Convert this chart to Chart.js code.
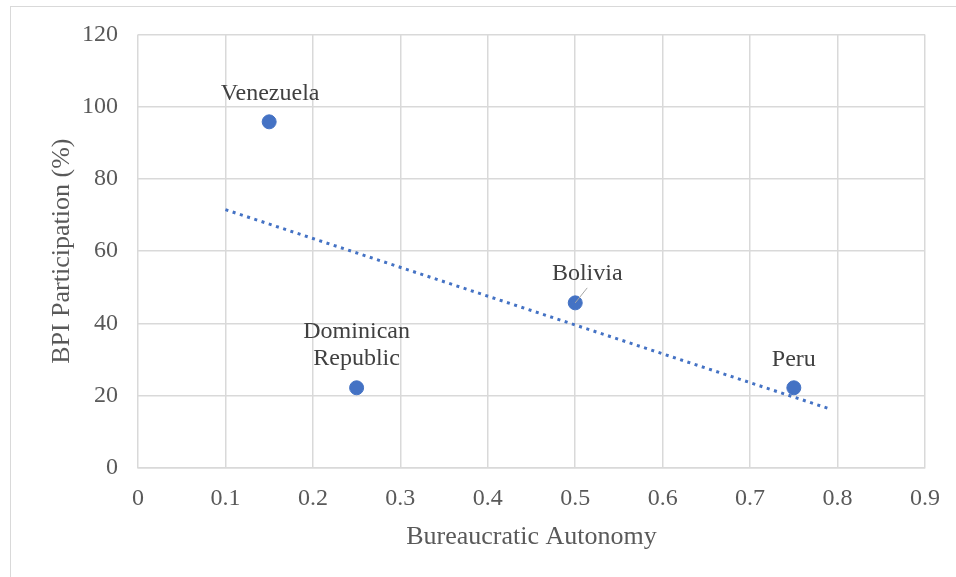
<!DOCTYPE html>
<html>
<head>
<meta charset="utf-8">
<script src="https://cdn.jsdelivr.net/npm/chart.js@4/dist/chart.umd.min.js"></script>
<style>
  html, body { margin: 0; padding: 0; background: #fff; overflow: hidden; }
  #wrap { position: relative; width: 956px; height: 577px; }
  #frame { position: absolute; left: 10px; top: 6px; width: 980px; height: 600px; border: 1.5px solid #d9d9d9; }
  canvas { position: absolute; left: 0; top: 0; }
</style>
</head>
<body>
<div id="wrap">
  <div id="frame"></div>
  <canvas id="chart" width="956" height="577"></canvas>
</div>
<script>
// country data
const countries = ["Venezuela", "Dominican\nRepublic", "Bolivia", "Peru"]
const autonomy = [0.15, 0.25, 0.5, 0.75]
const participation = [95.8, 22.2, 45.7, 22.2]

// linear trendline end points
const trendX = [0.1, 0.793]
const trendY = [71.5, 16.2]

const xTicks = [0, 0.1, 0.2, 0.3, 0.4, 0.5, 0.6, 0.7, 0.8, 0.9]
const yTicks = [0, 20, 40, 60, 80, 100, 120]

const serif = "'Liberation Serif', 'Times New Roman', serif"
const textColor = "#595959"
const gridColor = "#d9d9d9"
const blue = "#4472c4"

// label offsets relative to each point (dx, dy of the last text line)
const labelOffset = {
  "Venezuela": [1, -28],
  "Dominican\nRepublic": [0, -29],
  "Bolivia": [12, -29],
  "Peru": [0, -28]
}

const pointLabels = {
  id: "pointLabels",
  afterDatasetsDraw(chart) {
    const ctx = chart.ctx
    const xs = chart.scales.x
    const ys = chart.scales.y
    ctx.save()
    ctx.font = "24px " + serif
    ctx.fillStyle = "#404040"
    ctx.textAlign = "center"
    ctx.textBaseline = "middle"
    countries.forEach((name, i) => {
      const px = xs.getPixelForValue(autonomy[i])
      const py = ys.getPixelForValue(participation[i])
      const [dx, dy] = labelOffset[name]
      const lines = name.split("\n")
      lines.forEach((line, j) => {
        const off = (lines.length - 1 - j) * 27.5
        ctx.fillText(line, px + dx, py + dy - off)
      })
      if (name === "Bolivia") {
        // leader line
        ctx.strokeStyle = "#a6a6a6"
        ctx.lineWidth = 1
        ctx.beginPath()
        ctx.moveTo(px, py)
        ctx.lineTo(px + 12, py - 15)
        ctx.stroke()
      }
    })
    ctx.restore()
  }
}

const ctx = document.getElementById("chart").getContext("2d")
new Chart(ctx, {
  type: "scatter",
  data: {
    datasets: [
      {
        label: "Trendline",
        type: "line",
        data: trendX.map((x, i) => ({ x: x, y: trendY[i] })),
        borderColor: blue,
        borderWidth: 3,
        borderDash: [3, 4.6],
        pointRadius: 0,
        fill: false,
        order: 2
      },
      {
        label: "BPI",
        data: autonomy.map((x, i) => ({ x: x, y: participation[i] })),
        backgroundColor: blue,
        borderColor: blue,
        pointRadius: 7,
        pointHoverRadius: 7,
        order: 1
      }
    ]
  },
  options: {
    responsive: false,
    animation: false,
    events: [],
    layout: { padding: { left: 0, top: 34, right: 31, bottom: 0 } },
    plugins: {
      legend: { display: false },
      tooltip: { enabled: false }
    },
    scales: {
      x: {
        type: "linear",
        min: 0,
        max: 0.9,
        afterBuildTicks: scale => { scale.ticks = xTicks.map(v => ({ value: v })) },
        afterFit: scale => { scale.height = 109 },
        grid: { color: gridColor, lineWidth: 1.5, drawTicks: false },
        border: { color: gridColor, width: 1.5 },
        ticks: {
          color: textColor,
          font: { family: serif, size: 24 },
          padding: 16,
          maxRotation: 0,
          callback: v => String(v)
        },
        title: {
          display: true,
          text: "Bureaucratic Autonomy",
          color: textColor,
          font: { family: serif, size: 26 },
          padding: { top: 0, bottom: 24 }
        }
      },
      y: {
        min: 0,
        max: 120,
        afterBuildTicks: scale => { scale.ticks = yTicks.map(v => ({ value: v })) },
        afterFit: scale => { scale.width = 138 },
        grid: { color: gridColor, lineWidth: 1.5, drawTicks: false },
        border: { display: false },
        ticks: {
          color: textColor,
          font: { family: serif, size: 24 },
          padding: 20
        },
        title: {
          display: true,
          text: "BPI Participation (%)",
          color: textColor,
          font: { family: serif, size: 26 },
          padding: { top: 47, bottom: 0 }
        }
      }
    }
  },
  plugins: [pointLabels]
})
</script>
</body>
</html>
